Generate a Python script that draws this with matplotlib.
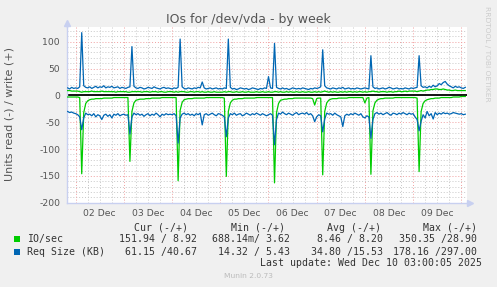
import matplotlib
matplotlib.use("Agg")
import matplotlib.pyplot as plt
import pandas as pd
import numpy as np

# ---------------- data (hourly samples) ----------------
start_time = "2025-12-01 20:00"
n_points = 199

io_write = [9, 9, 8, 8,
    8, 8, 7, 6, 7, 7, 7, 7, 8, 7, 7, 7, 7, 8, 7, 7, 7, 7, 7, 7, 6, 7, 7, 7,
    7, 7, 6, 6, 7, 7, 7, 7, 7, 6, 7, 7, 7, 6, 7, 7, 7, 6, 7, 7, 6, 6, 7, 7,
    7, 6, 7, 6, 7, 7, 7, 6, 6, 7, 7, 6, 7, 7, 6, 7, 6, 6, 7, 6, 6, 7, 6, 6,
    6, 6, 7, 6, 7, 7, 6, 6, 7, 6, 6, 7, 6, 6, 7, 6, 6, 6, 7, 6, 6, 7, 6, 6,
    7, 6, 6, 7, 7, 6, 7, 6, 6, 7, 6, 7, 6, 6, 7, 6, 6, 7, 6, 6, 7, 6, 6, 7,
    6, 7, 6, 7, 8, 7, 6, 7, 6, 7, 6, 6, 7, 6, 7, 6, 7, 7, 6, 7, 6, 7, 7, 6,
    7, 6, 7, 7, 8, 7, 7, 6, 7, 7, 7, 6, 7, 7, 6, 7, 7, 8, 7, 7, 8, 7, 8, 8,
    8, 8, 7, 8, 9, 8, 9, 10, 10, 11, 11, 12, 12, 11, 11, 12, 11, 10, 10, 9, 9, 10, 9, 9,
    9, 9, 9]

io_read = [-3, -3, -3, -3,
    -3, -3, -4, -146, -32, -15, -10, -8, -7, -7, -6, -6, -6, -6, -5, -5, -5, -5, -5, -4, -4, -4, -4, -4,
    -4, -4, -4, -123, -30, -14, -9, -8, -7, -7, -7, -6, -6, -6, -5, -5, -5, -5, -5, -4, -4, -4, -4, -4,
    -4, -4, -4, -159, -28, -13, -8, -7, -6, -6, -6, -5, -5, -5, -5, -5, -5, -4, -4, -4, -4, -4, -4, -4,
    -4, -4, -5, -151, -30, -14, -9, -7, -7, -6, -6, -6, -5, -5, -5, -5, -5, -5, -4, -4, -4, -4, -4, -4,
    -4, -4, -4, -163, -32, -15, -9, -8, -7, -7, -6, -6, -6, -5, -5, -5, -5, -5, -5, -5, -5, -5, -6, -18,
    -6, -5, -5, -148, -30, -14, -9, -7, -6, -6, -6, -5, -5, -5, -5, -5, -4, -4, -4, -4, -4, -4, -4, -4,
    -14, -5, -4, -147, -29, -14, -9, -7, -6, -6, -5, -5, -5, -5, -5, -4, -4, -4, -4, -4, -4, -4, -4, -4,
    -4, -4, -5, -142, -30, -15, -10, -8, -7, -6, -6, -5, -5, -5, -4, -4, -4, -4, -4, -4, -3, -3, -3, -3,
    -2, -2, -2]

req_write = [14, 12, 15, 13,
    14, 13, 16, 117, 18, 15, 14, 16, 13, 15, 17, 14, 16, 15, 18, 14, 16, 15, 17, 14, 15, 16, 13, 15,
    14, 13, 15, 16, 91, 17, 14, 13, 15, 14, 12, 13, 15, 14, 13, 16, 14, 13, 12, 14, 15, 13, 14, 13,
    12, 14, 13, 15, 105, 16, 13, 12, 14, 13, 12, 14, 13, 15, 14, 25, 14, 12, 13, 14, 12, 13, 14, 12,
    13, 12, 14, 13, 105, 15, 12, 13, 11, 12, 14, 13, 12, 13, 11, 12, 14, 13, 12, 11, 13, 12, 14, 13,
    35, 14, 13, 97, 15, 13, 12, 14, 12, 13, 11, 12, 14, 13, 12, 13, 12, 14, 13, 12, 11, 13, 12, 14,
    13, 14, 16, 85, 18, 14, 13, 12, 14, 13, 12, 14, 13, 15, 12, 13, 14, 12, 13, 12, 14, 13, 12, 13,
    14, 13, 12, 74, 16, 13, 14, 12, 13, 14, 12, 13, 15, 14, 12, 13, 14, 12, 13, 12, 14, 13, 12, 14,
    13, 14, 15, 74, 18, 15, 16, 14, 17, 15, 19, 16, 18, 22, 20, 24, 26, 21, 18, 16, 14, 17, 15, 16,
    14, 13, 15]

req_read = [-30, -32, -31, -33,
    -34, -36, -40, -64, -42, -33, -36, -35, -38, -34, -40, -36, -38, -45, -37, -35, -39, -36, -42, -35, -37, -34, -38, -36,
    -35, -37, -36, -72, -40, -33, -36, -34, -37, -35, -39, -36, -34, -38, -35, -37, -33, -36, -40, -35, -37, -34, -36, -35,
    -36, -34, -38, -89, -42, -35, -33, -36, -34, -37, -35, -38, -34, -36, -33, -55, -36, -34, -37, -35, -33, -36, -38, -34,
    -35, -37, -40, -77, -42, -34, -36, -33, -37, -35, -34, -38, -36, -33, -35, -37, -34, -36, -33, -35, -37, -34, -36, -38,
    -36, -34, -37, -92, -45, -33, -35, -31, -34, -36, -33, -35, -37, -34, -32, -36, -34, -33, -35, -32, -36, -34, -38, -49,
    -40, -36, -38, -68, -44, -33, -35, -34, -37, -33, -36, -38, -40, -58, -38, -35, -37, -34, -36, -33, -35, -37, -34, -40,
    -42, -38, -40, -80, -45, -34, -32, -35, -33, -36, -34, -32, -35, -37, -33, -34, -36, -33, -35, -32, -34, -36, -33, -35,
    -34, -40, -45, -66, -48, -36, -42, -30, -38, -34, -44, -32, -36, -33, -35, -32, -34, -33, -35, -34, -32, -33, -34, -35,
    -34, -36, -35]

day_labels = ["02 Dec", "03 Dec", "04 Dec", "05 Dec", "06 Dec", "07 Dec", "08 Dec", "09 Dec"]
y_ticks = [-200, -150, -100, -50, 0, 50, 100]

legend_rows = [
    ("IO/sec", "#00cc00", ["151.94 / 8.92", "688.14m/ 3.62", "8.46 / 8.20", "350.35 /28.90"]),
    ("Req Size (KB)", "#0066b3", ["61.15 /40.67", "14.32 / 5.43", "34.80 /15.53", "178.16 /297.00"]),
]
headers = ["Cur (-/+)", "Min (-/+)", "Avg (-/+)", "Max (-/+)"]
last_update = "Last update: Wed Dec 10 03:00:05 2025"

# ---------------- figure ----------------
W, H = 497, 287
fig = plt.figure(figsize=(W / 100, H / 100), dpi=100, facecolor="#f0f0f0")
L, R, T, B = 67, 466.7, 27, 202.7
ax = fig.add_axes([L / W, 1 - B / H, (R - L) / W, (B - T) / H])
ax.set_facecolor("white")

times = pd.date_range(start_time, periods=n_points, freq="h")
x0 = pd.Timestamp("2025-12-01 19:40")
x1 = pd.Timestamp("2025-12-10 02:42")
ax.set_xlim(x0, x1)
ax.set_ylim(-200, 127.5)

# grid
for v in range(-190, 130, 10):
    if v == 0:
        continue
    if v % 50 == 0:
        ax.axhline(v, color="#f0a0a0", lw=0.7, ls=(0, (1, 2)), zorder=1)
    else:
        ax.axhline(v, color="#c8c8c8", lw=0.7, ls=(0, (1, 2)), zorder=1)
for t in pd.date_range("2025-12-02 00:00", "2025-12-10 00:00", freq="6h"):
    if t.hour == 0:
        ax.axvline(t, color="#f0a0a0", lw=0.7, ls=(0, (1, 2)), zorder=1)
    else:
        ax.axvline(t, color="#c8c8c8", lw=0.7, ls=(0, (1, 2)), zorder=1)

ax.axhline(0, color="black", lw=1.3, zorder=2)

lw = 0.9
ax.plot(times, io_read, color="#00cc00", lw=lw, zorder=3)
ax.plot(times, io_write, color="#00cc00", lw=lw, zorder=3)
ax.plot(times, req_read, color="#0066b3", lw=lw, zorder=4)
ax.plot(times, req_write, color="#0066b3", lw=lw, zorder=4)

# axes styling
for s in ["top", "right"]:
    ax.spines[s].set_visible(False)
for s in ["left", "bottom"]:
    ax.spines[s].set_color("#c8d0f0")
    ax.spines[s].set_linewidth(1.0)

noon = pd.date_range("2025-12-02 12:00", periods=len(day_labels), freq="D")
ax.set_xticks(noon)
ax.set_xticklabels(day_labels)
ax.set_yticks(y_ticks)
ax.set_yticklabels([str(v) for v in y_ticks])
ax.tick_params(axis="both", length=0, labelsize=6.7, colors="#555555")
ax.tick_params(axis="y", pad=5)
ax.tick_params(axis="x", pad=4.5)

# axis arrows
ax.plot([0, 0], [1.0, 1.02], transform=ax.transAxes, color="#c8d0f0", lw=1, clip_on=False)
ax.plot([0], [1.025], marker="^", ms=4.5, color="#c8d0f0", transform=ax.transAxes, clip_on=False)
ax.plot([1.0, 1.005], [0, 0], transform=ax.transAxes, color="#c8d0f0", lw=1, clip_on=False)
ax.plot([1.008], [0], marker=">", ms=4.5, color="#c8d0f0", transform=ax.transAxes, clip_on=False)

# texts
def ftext(x, y, s, **kw):
    fig.text(x / W, 1 - y / H, s, **kw)

ftext(248.7, 19.3, "IOs for /dev/vda - by week", ha="center", va="center", fontsize=9, color="#555555")
ftext(10, 114.5, "Units read (-) / write (+)", ha="center", va="center", rotation=90,
      fontsize=8, color="#555555")
ftext(487.3, 53.4, "RRDTOOL / TOBI OETIKER", ha="center", va="center", rotation=270,
      fontsize=5.4, color="#cccccc")

mono = dict(family="DejaVu Sans Mono", fontsize=7.1, color="#333333", va="center")
header_x = [134.3, 230.7, 327.3, 422.7]
for hx, htxt in zip(header_x, headers):
    ftext(hx, 227.7, htxt, ha="left", **mono)

col_right = [197, 290, 383.3, 476.7]
row_y = [239.3, 251.7]
for (name, col, vals), ry in zip(legend_rows, row_y):
    fig.patches.append(plt.Rectangle((14 / W, 1 - (ry + 3) / H), 6 / W, 6 / H,
                                     transform=fig.transFigure, facecolor=col, edgecolor="none"))
    ftext(26.7, ry, name, ha="left", **mono)
    for cx, v in zip(col_right, vals):
        ftext(cx, ry, v, ha="right", **mono)

ftext(482.3, 263.3, last_update, ha="right", **mono)
ftext(248, 276, "Munin 2.0.73", ha="center", va="center", fontsize=5.4, color="#bbbbbb")

fig.savefig("out.png", dpi=100, facecolor=fig.get_facecolor())
